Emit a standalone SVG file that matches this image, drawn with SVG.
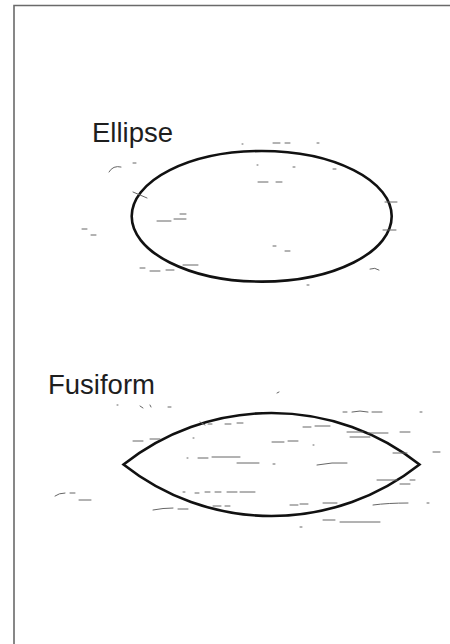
<svg xmlns="http://www.w3.org/2000/svg" width="450" height="644" viewBox="0 0 450 644">
<style>
.lbl{font-family:"Liberation Sans",Arial,sans-serif;font-size:27.5px;fill:#1e1e1e}
.shape{fill:none;stroke:#111;stroke-width:2.6}
.noise{fill:none;stroke:#666;stroke-width:1;stroke-linecap:round}
</style>
<rect width="450" height="644" fill="#fff"/>
<path d="M14,644 V5.5 H450" fill="none" stroke="#6a6a6a" stroke-width="1.6"/>
<g id="ellipse">
<text class="lbl" x="92" y="141.7">Ellipse</text>
<ellipse class="shape" cx="261.7" cy="216.3" rx="130" ry="65.3"/>
</g>
<g id="fusiform">
<text class="lbl" x="48" y="394.3">Fusiform</text>
<path class="shape" d="M123.5,464.5 A238.4,238.4 0 0 1 419.5,464.5 A238.4,238.4 0 0 1 123.5,464.5 Z" stroke-linejoin="miter"/>
</g>
<g id="noise" class="noise">
<path d="M109,172 Q113,165 121,167"/><path d="M133,163 h3"/>
<path d="M273,143 h7 M285,143 h5 M242,144 h1 M317,143 h2"/>
<path d="M258,182 h10 M276,182 h6"/>
<path d="M157,221 h14 M174,219 h12 M180,214 h6"/>
<path d="M82,229 h5 M91,235 h5"/>
<path d="M273,246 h3 M285,251 h5"/>
<path d="M140,268 h5 M150,271 h10 M166,270 h8 M183,265 h15"/>
<path d="M370,269 q5,-2 9,1"/>
<path d="M385,202 h12 M383,230 h13 M133,192 l14,6"/>
<path d="M257,165 h1 M293,167 h2 M333,169 h3"/>
<path d="M307,285 h2"/>
<path d="M277,393 l2,-1"/>
<path d="M117,405 h1 M140,406 l3,2 M150,405 l1,2 M168,407 h3"/>
<path d="M343,412 h4 M352,412 q8,-2 16,0 M372,412 h10 M420,412 h2"/>
<path d="M200,422 l5,3 M208,424 h4 M225,424 h6 M237,423 h6"/>
<path d="M303,427 h8 M315,426 h15 M347,432 h16 M368,433 h20 M400,432 h10 M350,437 h20"/>
<path d="M133,441 h10 M150,439 h10 M193,438 h1"/>
<path d="M272,442 h12 M288,441 h10 M313,445 h1"/>
<path d="M187,458 h1 M198,458 h10 M212,457 h28 M237,463 h22 M273,464 h2 M317,465 q15,-3 30,-2"/>
<path d="M393,453 h14 M433,452 h7"/>
<path d="M55,496 q4,-3 10,-3 M70,493 h5 M79,500 h12"/>
<path d="M183,492 h2 M195,493 h4 M205,492 h5 M215,492 h6 M227,492 h10 M240,492 h15"/>
<path d="M377,480 h20 M400,484 h10 M410,480 h5"/>
<path d="M153,510 q10,-2 20,-2 M178,509 h10 M213,506 h8 M225,506 h5"/>
<path d="M290,505 h8 M300,504 h8 M323,503 h14 M373,505 q15,-2 35,-2 M427,503 h2"/>
<path d="M323,520 h12 M340,522 h40"/>
<path d="M300,527 h2"/>
</g>
</svg>
